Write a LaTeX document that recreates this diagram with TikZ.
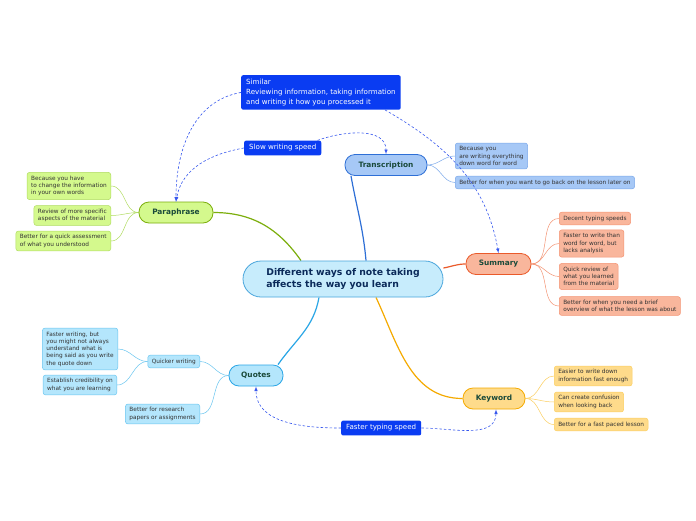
\documentclass[tikz,border=0pt]{standalone}
\usepackage{fontspec}
\setmainfont{DejaVu Sans}
\usepackage{tikz}
\usetikzlibrary{arrows}
\usetikzlibrary{backgrounds}
\usepackage{color}
\definecolor{centerbg}{HTML}{C7ECFC}
\definecolor{centerline}{HTML}{4AA6DC}
\definecolor{centertext}{HTML}{0B2A5A}
\definecolor{topictext}{HTML}{1A4A3A}
\definecolor{leaftext}{HTML}{333333}
\definecolor{transbg}{HTML}{A6C8F6}
\definecolor{transline}{HTML}{2E6FD6}
\definecolor{transleaf}{HTML}{7AA8EA}
\definecolor{sumbg}{HTML}{F9B69C}
\definecolor{sumline}{HTML}{EA5A2A}
\definecolor{sumleaf}{HTML}{F49474}
\definecolor{keybg}{HTML}{FEDB8B}
\definecolor{keyline}{HTML}{F5AA00}
\definecolor{keyleaf}{HTML}{FCCF60}
\definecolor{quotebg}{HTML}{B4E6FC}
\definecolor{quoteline}{HTML}{2AA6E6}
\definecolor{quoteleaf}{HTML}{6AC6F0}
\definecolor{parabg}{HTML}{D4F98D}
\definecolor{paraline}{HTML}{7CAE0C}
\definecolor{paraleaf}{HTML}{B0DC60}
\definecolor{notebg}{HTML}{0A3CF2}
\definecolor{relblue}{HTML}{3858EE}

\tikzset{
    topic/.style={draw, line width=0.8pt, rounded corners=10pt, minimum height=21pt, inner sep=0pt,
                  text=topictext, font=\bfseries\fontsize{7.4}{9}\selectfont},
    leaf/.style={draw, line width=0.5pt, rounded corners=2.5pt, align=left, inner xsep=4pt, inner ysep=3.5pt,
                 text=leaftext, font=\fontsize{5.8}{7.3}\selectfont},
    note/.style={fill=notebg, rounded corners=2pt, align=left, inner xsep=5pt, inner ysep=4pt,
                 text=white, font=\fontsize{7.1}{9.8}\selectfont},
    branch/.style={line width=1.2pt},
    twig/.style={line width=0.5pt},
    relation/.style={relblue, line width=0.6pt, dash pattern=on 2.5pt off 2pt, -latex}
}

\begin{document}
\begin{tikzpicture}[x=1pt, y=-1pt]
            \useasboundingbox (0,0) rectangle (696,520);
            % Central topic
            \node[topic, fill=centerbg, draw=centerline, text=centertext, rounded corners=18pt,
                  minimum width=200pt, minimum height=36pt, align=left,
                  font=\bfseries\fontsize{9.3}{12.5}\selectfont] (center) at (343,279)
                 {Different ways of note taking\\affects the way you learn};
            % Main topics
            \node[topic, fill=transbg, draw=transline, minimum width=82pt]  (trans)   at (386,165)   {Transcription};
            \node[topic, fill=sumbg,   draw=sumline,   minimum width=65pt]  (summary) at (498.5,264) {Summary};
            \node[topic, fill=keybg,   draw=keyline,   minimum width=62pt]  (key)     at (494,398.5) {Keyword};
            \node[topic, fill=quotebg, draw=quoteline, minimum width=54pt]  (quotes)  at (256,375.5) {Quotes};
            \node[topic, fill=parabg,  draw=paraline,  minimum width=74pt]  (para)    at (176,212.5) {Paraphrase};
            % Transcription
            \node[leaf, fill=transbg, draw=transleaf, anchor=west] (trans1) at (455,156)   {Because you\\are writing everything\\down word for word};
            \node[leaf, fill=transbg, draw=transleaf, anchor=west] (trans2) at (455,182.5) {Better for when you want to go back on the lesson later on};
            % Summary
            \node[leaf, fill=sumbg, draw=sumleaf, anchor=west] (sum1) at (559,218.5) {Decent typing speeds};
            \node[leaf, fill=sumbg, draw=sumleaf, anchor=west] (sum2) at (559,243.5) {Faster to write than\\word for word, but\\lacks analysis};
            \node[leaf, fill=sumbg, draw=sumleaf, anchor=west] (sum3) at (559,276.5) {Quick review of\\what you learned\\from the material};
            \node[leaf, fill=sumbg, draw=sumleaf, anchor=west] (sum4) at (559,306)   {Better for when you need a brief\\overview of what the lesson was about};
            % Keyword
            \node[leaf, fill=keybg, draw=keyleaf, anchor=west] (key1) at (554,376)   {Easier to write down\\information fast enough};
            \node[leaf, fill=keybg, draw=keyleaf, anchor=west] (key2) at (554,402)   {Can create confusion\\when looking back};
            \node[leaf, fill=keybg, draw=keyleaf, anchor=west] (key3) at (554,424.5) {Better for a fast paced lesson};
            % Quotes
            \node[leaf, fill=quotebg, draw=quoteleaf, anchor=east] (quick)  at (200,361.5) {Quicker writing};
            \node[leaf, fill=quotebg, draw=quoteleaf, anchor=east] (quote1) at (118,349)   {Faster writing, but\\you might not always\\understand what is\\being said as you write\\the quote down};
            \node[leaf, fill=quotebg, draw=quoteleaf, anchor=east] (quote2) at (117,385)   {Establish credibility on\\what you are learning};
            \node[leaf, fill=quotebg, draw=quoteleaf, anchor=east] (quote3) at (200,414)   {Better for research\\papers or assignments};
            % Paraphrase
            \node[leaf, fill=parabg, draw=paraleaf, anchor=east] (para1) at (111,186)   {Because you have\\to change the information\\in your own words};
            \node[leaf, fill=parabg, draw=paraleaf, anchor=east] (para2) at (111,215.5) {Review of more specific\\aspects of the material};
            \node[leaf, fill=parabg, draw=paraleaf, anchor=east] (para3) at (111,241)   {Better for a quick assessment\\of what you understood};
            % Floating notes
            \node[note, anchor=north west] (similar) at (241,75)
                 {Similar\\Reviewing information, taking information\\and writing it how you processed it};
            \node[note, anchor=west] (slow) at (244,148) {Slow writing speed};
            \node[note, anchor=west] (fast) at (341,428) {Faster typing speed};
            \begin{pgfonlayer}{background}
            \fill[white] (0,0) rectangle (696,520);
            % Branches from the centre
            \draw[branch, transline] ([xshift=23pt]center.north)  to[out=95,in=-80]  ([xshift=-35pt]trans.south);
            \draw[branch, sumline]   ([yshift=11pt]center.east)   to[out=10,in=180]  (summary.west);
            \draw[branch, keyline]   ([xshift=33pt]center.south)  to[out=-65,in=180] (key.west);
            \draw[branch, quoteline] ([xshift=-24pt]center.south) to[out=-100,in=55] ([xshift=22pt]quotes.north);
            \draw[branch, paraline]  ([xshift=-42pt]center.north) to[out=125,in=0]   (para.east);
            % Twigs to the subtopics
            \foreach \leafname in {trans1, trans2}
                \draw[twig, transleaf] (trans.east) to[out=0,in=180] (\leafname.west);
            \foreach \leafname in {sum1, sum2, sum3, sum4}
                \draw[twig, sumleaf] (summary.east) to[out=0,in=180] (\leafname.west);
            \foreach \leafname in {key1, key2, key3}
                \draw[twig, keyleaf] (key.east) to[out=0,in=180] (\leafname.west);
            \foreach \leafname in {quick, quote3}
                \draw[twig, quoteleaf] (quotes.west) to[out=180,in=0] (\leafname.east);
            \foreach \leafname in {quote1, quote2}
                \draw[twig, quoteleaf] (quick.west) to[out=180,in=0] (\leafname.east);
            \foreach \leafname in {para1, para2, para3}
                \draw[twig, paraleaf] (para.west) to[out=180,in=0] (\leafname.east);
            \end{pgfonlayer}
            % Relationships
            \draw[relation] (similar.west)                to[out=190,in=90]  (para.north);
            \draw[relation] ([xshift=64pt]similar.south)  to[out=-30,in=100] (summary.north);
            \draw[relation] (slow.west)                   to[out=190,in=80]  (para.north);
            \draw[relation] ([xshift=-4pt]slow.north east) to[out=20,in=90]  (trans.north);
            \draw[relation] (fast.west)                   to[out=180,in=-90] (quotes.south);
            \draw[relation] (fast.east)                   to[out=0,in=-90]   ([xshift=2pt]key.south);
\end{tikzpicture}
\end{document}
